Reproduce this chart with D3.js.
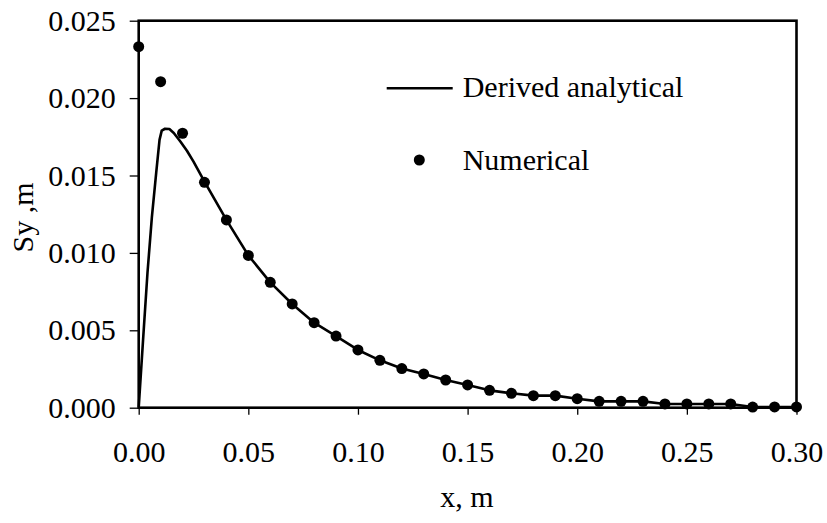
<!DOCTYPE html>
<html><head><meta charset="utf-8">
<script src="https://cdn.jsdelivr.net/npm/d3@7"></script>
<style>
html,body{margin:0;padding:0;background:#fff;}
text{font-family:"Liberation Serif","Times New Roman",serif;fill:#000;}
</style></head>
<body><svg id="c" width="827" height="523"></svg>
<script>
// Numerical series
const xNum = [0,0.01,0.02,0.03,0.04,0.05,0.06,0.07,0.08,0.09,0.10,0.11,0.12,0.13,0.14,0.15,0.16,0.17,0.18,0.19,0.20,0.21,0.22,0.23,0.24,0.25,0.26,0.27,0.28,0.29,0.30];
const yNum = [0.02332,0.02106,0.01773,0.01456,0.01213,0.00984,0.00810,0.00670,0.00549,0.00463,0.00373,0.00306,0.00253,0.00218,0.00179,0.00147,0.00112,0.00093,0.00078,0.00078,0.00058,0.00041,0.00041,0.00041,0.00024,0.00024,0.00024,0.00024,0.00004,0.00005,0.00005];
// Derived analytical series
const xAna = [0,0.002,0.004,0.006,0.008,0.0095,0.0105,0.012,0.014,0.016,0.019,0.022,0.025,0.03,0.04,0.05,0.06,0.07,0.08,0.09,0.10,0.11,0.12,0.13,0.14,0.15,0.16,0.17,0.18,0.19,0.20,0.21,0.22,0.23,0.24,0.25,0.26,0.27,0.28,0.29,0.30];
const yAna = [0,0.0044,0.0087,0.0123,0.0152,0.0173,0.0179,0.01802,0.0180,0.01775,0.0172,0.0166,0.0159,0.0146,0.01213,0.00984,0.00810,0.00670,0.00549,0.00463,0.00373,0.00306,0.00253,0.00218,0.00179,0.00147,0.00112,0.00093,0.00078,0.00078,0.00058,0.00041,0.00041,0.00041,0.00024,0.00024,0.00024,0.00024,0.00004,0.00005,0.00005];
const xTicks = [0,0.05,0.10,0.15,0.20,0.25,0.30];
const yTicks = [0,0.005,0.010,0.015,0.020,0.025];
const legendLabels = ["Derived analytical","Numerical"];
const xTitle = "x, m", yTitle = "Sy ,m";

const svg = d3.select("#c");
const L = 138.7, R = 796.5, T = 20.7, B = 407.7;
const x = d3.scaleLinear().domain([0,0.30]).range([L,R]);
const y = d3.scaleLinear().domain([0,0.025]).range([B,T]);
const FS = 30;

// Axes
const gx = svg.append("g").attr("transform",`translate(0,${B})`)
  .call(d3.axisBottom(x).tickValues(xTicks).tickFormat(d3.format(".2f")).tickSize(7).tickPadding(26));
const gy = svg.append("g").attr("transform",`translate(${L},0)`)
  .call(d3.axisLeft(y).tickValues(yTicks).tickFormat(d3.format(".3f")).tickSize(9).tickPadding(14));
[gx,gy].forEach(g=>{
  g.select(".domain").remove();
  g.selectAll(".tick line").attr("stroke","#000").attr("stroke-width",1.3);
  g.selectAll(".tick text").attr("font-size",FS).attr("fill","#000");
});

// Frame
svg.append("rect").attr("x",L).attr("y",T).attr("width",R-L).attr("height",B-T)
  .attr("fill","none").attr("stroke","#000").attr("stroke-width",2.6);

// Analytical line
const ana = xAna.map((d,i)=>[d,yAna[i]]);
svg.append("path").datum(ana)
  .attr("d",d3.line().x(d=>x(d[0])).y(d=>y(d[1])))
  .attr("fill","none").attr("stroke","#000").attr("stroke-width",2.6).attr("stroke-linejoin","round");

// Numerical points
svg.append("g").selectAll("circle").data(xNum.map((d,i)=>[d,yNum[i]])).join("circle")
  .attr("cx",d=>x(d[0])).attr("cy",d=>y(d[1])).attr("r",5.5).attr("fill","#000");

// Legend
svg.append("line").attr("x1",386.7).attr("x2",452.7).attr("y1",88.3).attr("y2",88.3)
  .attr("stroke","#000").attr("stroke-width",2.6);
svg.append("text").attr("x",462.7).attr("y",96.5).attr("font-size",FS).text(legendLabels[0]);
svg.append("circle").attr("cx",419.3).attr("cy",160).attr("r",5.5).attr("fill","#000");
svg.append("text").attr("x",462.7).attr("y",170).attr("font-size",FS).text(legendLabels[1]);

// Titles
svg.append("text").attr("x",467).attr("y",507).attr("text-anchor","middle").attr("font-size",FS).text(xTitle);
svg.append("text").attr("transform","translate(33,217.5) rotate(-90)").attr("text-anchor","middle").attr("font-size",FS).text(yTitle);
</script></body></html>
